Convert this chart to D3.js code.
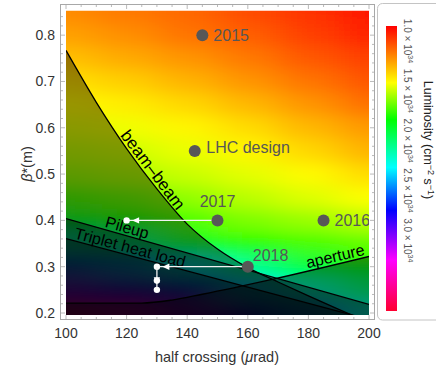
<!DOCTYPE html>
<html>
<head>
<meta charset="utf-8">
<script src="https://cdn.jsdelivr.net/npm/d3@7"></script>
<style>
  body { margin: 0; background: #fff; }
  svg { display: block; font-family: "Liberation Sans", Arial, sans-serif; }
</style>
</head>
<body>
<svg id="chart" width="436" height="366"></svg>
<script>
// luminosity map (units of 1e34 cm^-2 s^-1)
const crossing = [100, 120, 140, 160, 180, 200];
const betaStar = [0.20, 0.25, 0.30, 0.35, 0.40, 0.45, 0.50, 0.55, 0.60, 0.65, 0.70, 0.75, 0.80, 0.85];
const lumi = [
  [3.45, 3.28, 3.02, 2.72, 2.42, 2.20],
  [2.95, 2.82, 2.62, 2.34, 2.14, 2.00],
  [2.50, 2.40, 2.24, 2.05, 1.90, 1.80],
  [2.12, 2.02, 1.86, 1.74, 1.69, 1.65],
  [1.85, 1.77, 1.68, 1.61, 1.57, 1.52],
  [1.68, 1.64, 1.58, 1.52, 1.47, 1.42],
  [1.57, 1.54, 1.50, 1.46, 1.41, 1.34],
  [1.51, 1.49, 1.45, 1.40, 1.33, 1.25],
  [1.46, 1.44, 1.40, 1.34, 1.26, 1.19],
  [1.41, 1.38, 1.33, 1.26, 1.18, 1.10],
  [1.35, 1.31, 1.25, 1.18, 1.11, 1.04],
  [1.28, 1.23, 1.18, 1.12, 1.05, 0.99],
  [1.21, 1.17, 1.11, 1.06, 0.99, 0.93],
  [1.16, 1.12, 1.08, 1.02, 0.96, 0.89]
];

// colour legend
const lumiStops = [0.85, 1.42, 1.79, 2.27, 2.70, 3.20, 3.71];
const hueColors = ["#ff0000", "#ffff00", "#00ff00", "#00ffff", "#0000ff", "#ff00ff", "#ff0030"];
const lumiTicks = [1.0, 1.5, 2.0, 2.5, 3.0];

// constraint curves [half crossing, beta*]
const beamBeam = [[100, 0.767], [110, 0.655], [120, 0.555], [130, 0.468], [140, 0.392], [150, 0.338],
  [160, 0.298], [170, 0.267], [180, 0.237], [190, 0.208], [197, 0.188]];
const pileup = [[100, 0.404], [200, 0.2186]];
const tripletHeat = [[100, 0.3605], [200, 0.186]];
const aperture = [[100, 0.2215], [125, 0.2215], [135, 0.228], [145, 0.2405], [168, 0.2725], [200, 0.322]];

// operating points
const runNames = ["2015", "LHC design", "2017", "2016", "2018"];
const runCrossing = [145, 142.5, 150, 185, 160];
const runBeta = [0.80, 0.55, 0.40, 0.40, 0.30];

// levelling steps
const levelling = [
  [[150, 0.40], [120, 0.40]],
  [[160, 0.30], [130, 0.30]],
  [[130, 0.30], [130, 0.27], [130, 0.25]]
];

const crossingTicks = [100, 120, 140, 160, 180, 200];
const betaTicks = [0.2, 0.3, 0.4, 0.5, 0.6, 0.7, 0.8];

const svg = d3.select("#chart");
const x = d3.scaleLinear().domain([100, 200]).range([66, 369]);
const y = d3.scaleLinear().domain([0.2, 0.85]).range([313, 12]);
const area = { left: 66, right: 369, top: 10.7, bottom: 315 };
const color = d3.scaleLinear().domain(lumiStops).range(hueColors).clamp(true);

const defs = svg.append("defs");
defs.append("clipPath").attr("id", "plot-clip")
  .append("rect")
  .attr("x", area.left).attr("y", area.top)
  .attr("width", area.right - area.left).attr("height", area.bottom - area.top);
defs.append("filter").attr("id", "smooth")
  .attr("filterUnits", "userSpaceOnUse")
  .attr("x", -100).attr("y", -120).attr("width", 640).attr("height", 600)
  .append("feGaussianBlur").attr("stdDeviation", "19 8");

// ---- heat map ----
const xEdges = crossing.map((c, i) => [
  i === 0 ? x(c) - 90 : (x(crossing[i - 1]) + x(c)) / 2,
  i === crossing.length - 1 ? x(c) + 90 : (x(c) + x(crossing[i + 1])) / 2
]);
const yEdges = betaStar.map((b, j) => [
  j === betaStar.length - 1 ? y(b) - 90 : (y(b) + y(betaStar[j + 1])) / 2,
  j === 0 ? y(b) + 90 : (y(betaStar[j - 1]) + y(b)) / 2
]);
const cells = lumi.flatMap((row, j) => row.map((v, i) => ({ i, j, v })));

const plot = svg.append("g").attr("clip-path", "url(#plot-clip)");
plot.append("g").attr("filter", "url(#smooth)")
  .selectAll("rect")
  .data(cells)
  .join("rect")
  .attr("x", d => xEdges[d.i][0])
  .attr("width", d => xEdges[d.i][1] - xEdges[d.i][0])
  .attr("y", d => yEdges[d.j][0])
  .attr("height", d => yEdges[d.j][1] - yEdges[d.j][0])
  .attr("shape-rendering", "crispEdges")
  .attr("fill", d => color(d.v));

// ---- constraint regions ----
const floorBeta = 0.15;
const shade = d3.area().x(d => x(d[0])).y0(y(floorBeta)).y1(d => y(d[1])).curve(d3.curveMonotoneX);
const edge = d3.line().x(d => x(d[0])).y(d => y(d[1])).curve(d3.curveMonotoneX);
const constraints = [beamBeam, pileup, tripletHeat, aperture];

plot.selectAll("path.shade")
  .data(constraints)
  .join("path")
  .attr("class", "shade")
  .attr("d", shade)
  .attr("fill", "#000")
  .attr("fill-opacity", 0.4);

plot.selectAll("path.edge")
  .data(constraints)
  .join("path")
  .attr("class", "edge")
  .attr("d", edge)
  .attr("fill", "none")
  .attr("stroke", "#000")
  .attr("stroke-width", 1.3);

// labels along the curves
const curveLabels = [
  { text: "beam–beam", c: 126.5, b: 0.4985, angle: 53, anchor: "middle", size: 17 },
  { text: "Pileup", c: 119.5, b: 0.3678, angle: 15.8, anchor: "middle", size: 16 },
  { text: "Triplet heat load", c: 120.5, b: 0.3247, angle: 14.9, anchor: "middle", size: 16 },
  { text: "aperture", c: 199, b: 0.3205, angle: -13.2, anchor: "end", size: 16 }
];
plot.selectAll("text.curve")
  .data(curveLabels)
  .join("text")
  .attr("class", "curve")
  .attr("transform", d => `translate(${x(d.c)},${y(d.b)}) rotate(${d.angle})`)
  .attr("dy", -2.5)
  .attr("text-anchor", d => d.anchor)
  .attr("font-size", d => d.size)
  .attr("fill", "#000")
  .text(d => d.text);

// levelling arrows
const lev = plot.append("g");
levelling.forEach(path => {
  lev.append("path")
    .datum(path)
    .attr("d", d3.line().x(d => x(d[0])).y(d => y(d[1])))
    .attr("fill", "none")
    .attr("stroke", "#f2f2f2")
    .attr("stroke-width", 1.3);
  const a = path[path.length - 2], b = path[path.length - 1];
  const ax = x(a[0]), ay = y(a[1]), bx = x(b[0]), by = y(b[1]);
  const len = Math.hypot(bx - ax, by - ay);
  const ux = (bx - ax) / len, uy = (by - ay) / len;
  const tx = bx - ux * 5.5, ty = by - uy * 5.5;
  const sx = tx - ux * 7, sy = ty - uy * 7;
  lev.append("path")
    .attr("d", `M${tx},${ty}L${sx - uy * 3.2},${sy + ux * 3.2}L${sx + uy * 3.2},${sy - ux * 3.2}Z`)
    .attr("fill", "#fff");
  lev.selectAll(null)
    .data(path.slice(1))
    .join("circle")
    .attr("cx", d => x(d[0]))
    .attr("cy", d => y(d[1]))
    .attr("r", 3.2)
    .attr("fill", "#fff");
});

// operating points
const runPlace = [
  { dx: 11, dy: 5.5, anchor: "start" },
  { dx: 11.5, dy: 2.5, anchor: "start" },
  { dx: 0, dy: -13, anchor: "middle" },
  { dx: 11, dy: 5.5, anchor: "start" },
  { dx: 5, dy: -6, anchor: "start" }
];
const runs = runNames.map((name, k) => ({ name, c: runCrossing[k], b: runBeta[k], place: runPlace[k] }));
plot.selectAll("circle.run")
  .data(runs)
  .join("circle")
  .attr("class", "run")
  .attr("cx", d => x(d.c))
  .attr("cy", d => y(d.b))
  .attr("r", 6)
  .attr("fill", "#575757");
plot.selectAll("text.run")
  .data(runs)
  .join("text")
  .attr("class", "run")
  .attr("x", d => x(d.c) + d.place.dx)
  .attr("y", d => y(d.b) + d.place.dy)
  .attr("text-anchor", d => d.place.anchor)
  .attr("font-size", 16)
  .attr("fill", "#575757")
  .text(d => d.name);

// ---- frame ----
const frame = { left: 60.5, right: 374.5, top: 4.5, bottom: 319.5 };
const frameColor = "#a8a8a8";
svg.append("rect")
  .attr("x", frame.left).attr("y", frame.top)
  .attr("width", frame.right - frame.left).attr("height", frame.bottom - frame.top)
  .attr("fill", "none").attr("stroke", frameColor);

const xMinor = d3.range(100, 201, 5);
const yMinor = d3.range(10, 86, 2).map(v => v / 100);
const ticks = svg.append("g").attr("stroke", frameColor).attr("stroke-width", 0.8);
xMinor.forEach(v => {
  const len = v % 20 === 0 ? 4.5 : 2.5;
  ticks.append("line").attr("x1", x(v)).attr("x2", x(v)).attr("y1", frame.bottom).attr("y2", frame.bottom - len);
  ticks.append("line").attr("x1", x(v)).attr("x2", x(v)).attr("y1", frame.top).attr("y2", frame.top + len);
});
yMinor.filter(v => y(v) > frame.top + 1 && y(v) < frame.bottom - 1).forEach(v => {
  const len = Math.round(v * 100) % 10 === 0 ? 4.5 : 2.5;
  ticks.append("line").attr("y1", y(v)).attr("y2", y(v)).attr("x1", frame.left).attr("x2", frame.left + len);
  ticks.append("line").attr("y1", y(v)).attr("y2", y(v)).attr("x1", frame.right).attr("x2", frame.right - len);
});

svg.append("g").selectAll("text")
  .data(crossingTicks)
  .join("text")
  .attr("x", d => x(d))
  .attr("y", 338)
  .attr("text-anchor", "middle")
  .attr("font-size", 14)
  .attr("fill", "#333")
  .text(d => d);

svg.append("g").selectAll("text")
  .data(betaTicks)
  .join("text")
  .attr("x", 55)
  .attr("y", d => y(d) + 5)
  .attr("text-anchor", "end")
  .attr("font-size", 14)
  .attr("fill", "#333")
  .text(d => d.toFixed(1));

const xTitle = svg.append("text")
  .attr("x", 217).attr("y", 362)
  .attr("text-anchor", "middle")
  .attr("font-size", 14.5)
  .attr("fill", "#333");
xTitle.append("tspan").text("half crossing (");
xTitle.append("tspan").attr("font-style", "italic").text("μ");
xTitle.append("tspan").text("rad)");

const yTitle = svg.append("text")
  .attr("transform", "translate(32,164) rotate(-90)")
  .attr("text-anchor", "middle")
  .attr("font-size", 14.5)
  .attr("fill", "#333");
yTitle.append("tspan").attr("font-style", "italic").text("β");
yTitle.append("tspan").text("*(m)");

// ---- colour bar ----
const cb = d3.scaleLinear().domain([lumiStops[0], lumiStops[lumiStops.length - 1]]).range([26, 311]);
svg.append("rect")
  .attr("x", 377.5).attr("y", 3.5).attr("width", 70).attr("height", 316.5)
  .attr("rx", 5).attr("fill", "#fff").attr("stroke", "#c4c4c4");

const grad = defs.append("linearGradient").attr("id", "lumi-grad")
  .attr("x1", 0).attr("y1", 0).attr("x2", 0).attr("y2", 1);
grad.selectAll("stop")
  .data(lumiStops)
  .join("stop")
  .attr("offset", d => (cb(d) - cb.range()[0]) / (cb.range()[1] - cb.range()[0]))
  .attr("stop-color", d => color(d));

svg.append("rect")
  .attr("x", 386).attr("y", cb.range()[0])
  .attr("width", 11).attr("height", cb.range()[1] - cb.range()[0])
  .attr("fill", "url(#lumi-grad)");

svg.append("g").selectAll("text")
  .data(lumiTicks)
  .join("text")
  .attr("transform", d => `translate(404,${cb(d)}) rotate(90)`)
  .attr("text-anchor", "middle")
  .attr("font-size", 10)
  .attr("fill", "#555")
  .each(function (d) {
    const t = d3.select(this);
    t.append("tspan").text(d.toFixed(1) + " × 10");
    t.append("tspan").attr("dy", -4).attr("font-size", 7).text("34");
  });

const lumLabel = svg.append("text")
  .attr("transform", "translate(424,140) rotate(90)")
  .attr("text-anchor", "middle")
  .attr("font-size", 12.5)
  .attr("fill", "#222");
lumLabel.append("tspan").text("Luminosity (cm");
lumLabel.append("tspan").attr("dy", -4).attr("font-size", 9).text("−2");
lumLabel.append("tspan").attr("dy", 4).text(" s");
lumLabel.append("tspan").attr("dy", -4).attr("font-size", 9).text("−1");
lumLabel.append("tspan").attr("dy", 4).text(")");
</script>
</body>
</html>
